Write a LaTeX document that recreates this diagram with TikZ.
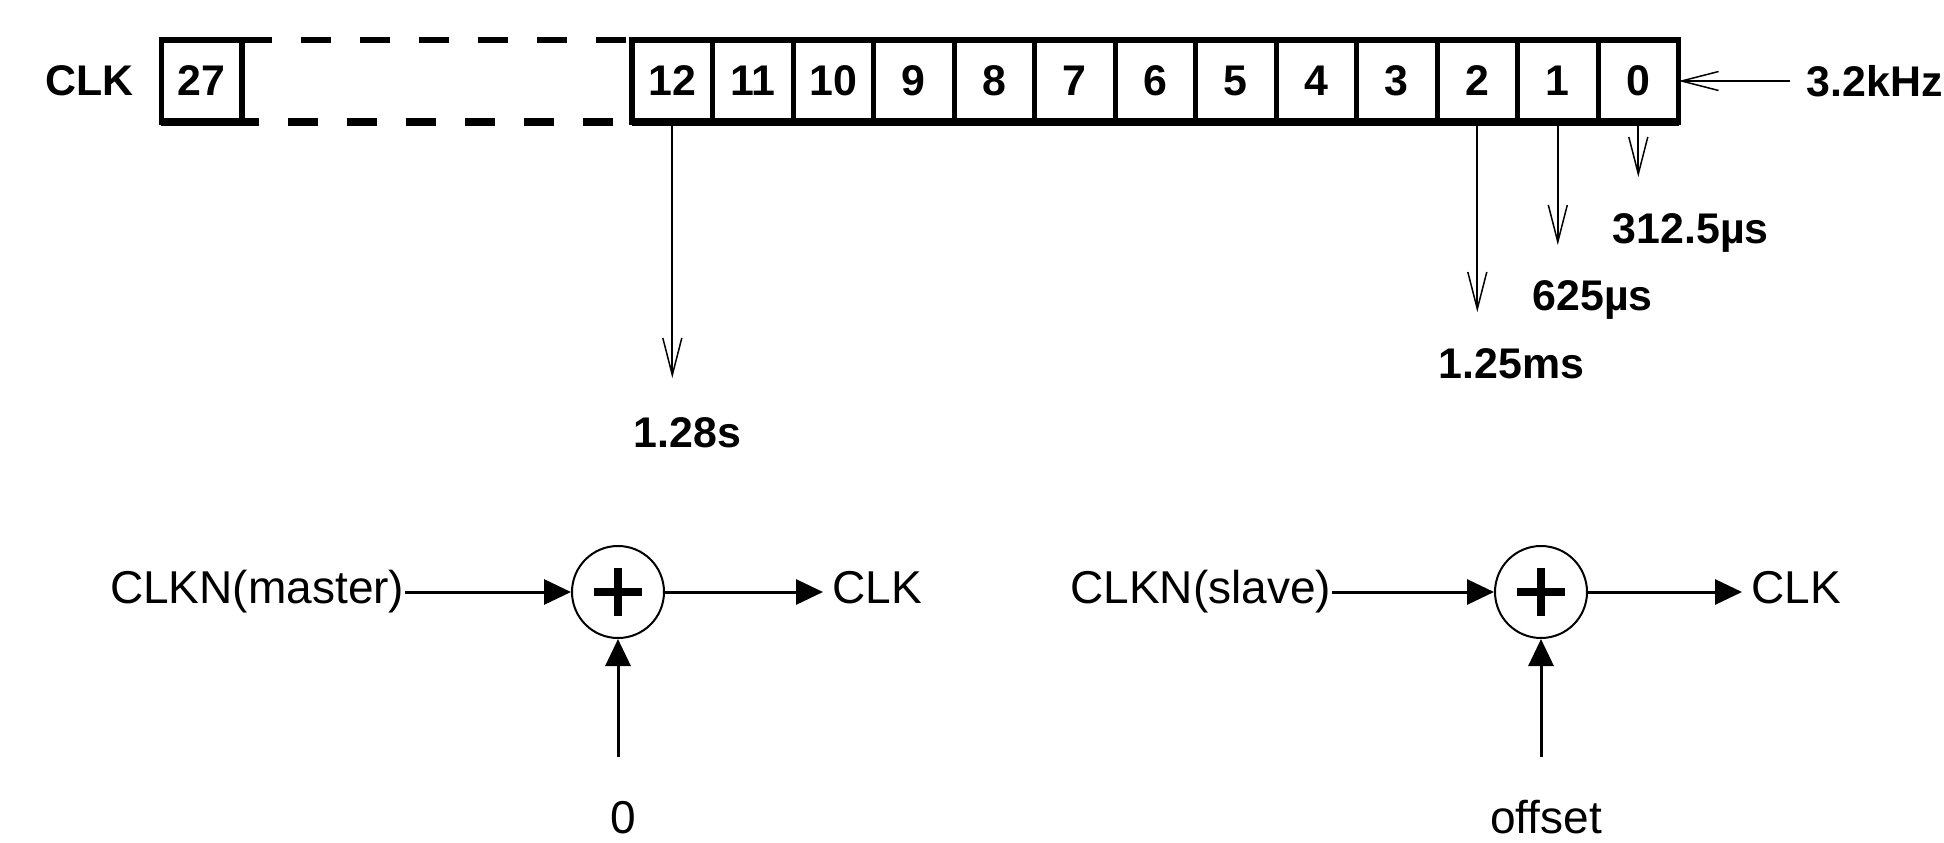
\documentclass[tikz,border=0pt]{standalone}
\usepackage{fontspec}
\setmainfont{Liberation Sans}
\usepackage{tikz}
\usetikzlibrary{positioning}
\usetikzlibrary{arrows.meta,shapes.geometric}

\begin{document}
\begin{tikzpicture}[x=0.1mm, y=-0.1mm,
      reg-cell/.style={rectangle, draw, line width=0.5mm, minimum width=8.05mm, minimum height=8.2mm, inner sep=0pt, outer sep=0pt, font=\bfseries\fontsize{12.2}{14}\selectfont},
      reg-frame/.style={line width=0.55mm},
      reg-base/.style={line width=0.8mm},
      reg-gap/.style={line width=0.6mm, dash pattern=on 3mm off 2.9mm},
      tap-label/.style={inner sep=0pt, font=\bfseries\fontsize{12.2}{14}\selectfont},
      tap-arrow/.style={line width=0.2mm, -{Straight Barb[length=3.7mm, width=1.9mm, line width=0.15mm]}},
      sig-label/.style={inner sep=0pt, font=\fontsize{13.1}{15}\selectfont},
      sig-arrow/.style={line width=0.3mm, -{Triangle[length=2.7mm, width=2.5mm]}},
      sum-node/.style={circle, draw, line width=0.2mm, minimum size=9.2mm, inner sep=0pt},
      sum-plus/.style={line width=0.85mm}
    ]
      \useasboundingbox (0,0) rectangle (1944,842);

      % clock register
      \node[tap-label, anchor=base west] (clk) at (45,95) {CLK};
      \node[reg-cell] (c27) at (201.5,81) {27};
      \node[reg-cell] (c12) at (672.3,81) {12};
      \node[reg-cell, right=0pt of c12] (c11) {11};
      \node[reg-cell, right=0pt of c11] (c10) {10};
      \node[reg-cell, right=0pt of c10] (c9) {9};
      \node[reg-cell, right=0pt of c9] (c8) {8};
      \node[reg-cell, right=0pt of c8] (c7) {7};
      \node[reg-cell, right=0pt of c7] (c6) {6};
      \node[reg-cell, right=0pt of c6] (c5) {5};
      \node[reg-cell, right=0pt of c5] (c4) {4};
      \node[reg-cell, right=0pt of c4] (c3) {3};
      \node[reg-cell, right=0pt of c3] (c2) {2};
      \node[reg-cell, right=0pt of c2] (c1) {1};
      \node[reg-cell, right=0pt of c1] (c0) {0};
      \draw[reg-frame] (c27.north west) rectangle (c27.south east);
      \draw[reg-frame] (c12.north west) rectangle (c0.south east);
      \draw[reg-base] (c27.south west) -- (c27.south east);
      \draw[reg-base] (c12.south west) -- (c0.south east);
      \draw[reg-gap] (c27.north east) -- (c12.north west);
      \draw[reg-gap, line width=0.8mm, dash phase=1.3mm] (c27.south east) -- (c12.south west);

      % input clock
      \node[tap-label, anchor=base west] (freq) at (1806,96) {3.2kHz};
      \draw[tap-arrow, shorten <=1.6mm] (freq.west |- c0.east) -- (c0.east);

      % taps
      \coordinate (e12) at (c12.south |- 0,378);
      \coordinate (e2) at (c2.south |- 0,312);
      \coordinate (e1) at (c1.south |- 0,245);
      \coordinate (e0) at (c0.south |- 0,177);
      \draw[tap-arrow] (c12.south) -- (e12);
      \draw[tap-arrow] (c2.south) -- (e2);
      \draw[tap-arrow] (c1.south) -- (e1);
      \draw[tap-arrow] (c0.south) -- (e0);
      \node[tap-label, anchor=base west] (t12) at (633,447) {1.28s};
      \node[tap-label, anchor=base west] (t2) at (1438,378) {1.25ms};
      \node[tap-label, anchor=base west] (t1) at (1532,310) {625µs};
      \node[tap-label, anchor=base west] (t0) at (1612,243) {312.5µs};

      % master adder
      \node[sum-node] (sumA) at (618,592) {};
      \draw[sum-plus] (sumA.center) +(-24,0) -- +(24,0) +(0,-24) -- +(0,24);
      \node[sig-label, anchor=east] (master) at (405,592) {CLKN(master)};
      \node[sig-label, anchor=base west] (outA) at (832,603) {CLK};
      \node[sig-label, anchor=base] (zeroA) at (623,833) {0};
      \coordinate (inA) at (sumA |- 0,757);
      \draw[sig-arrow] (master.east |- sumA) -- (sumA.west);
      \draw[sig-arrow, shorten >=0.9mm] (sumA.east) -- (sumA.east -| outA.west);
      \draw[sig-arrow] (inA) -- (sumA.south);

      % slave adder
      \node[sum-node] (sumB) at (1541,592) {};
      \draw[sum-plus] (sumB.center) +(-24,0) -- +(24,0) +(0,-24) -- +(0,24);
      \node[sig-label, anchor=east] (slave) at (1332,592) {CLKN(slave)};
      \node[sig-label, anchor=base west] (outB) at (1751,603) {CLK};
      \node[sig-label, anchor=base] (offs) at (1546,833) {offset};
      \coordinate (inB) at (sumB |- 0,757);
      \draw[sig-arrow] (slave.east |- sumB) -- (sumB.west);
      \draw[sig-arrow, shorten >=0.9mm] (sumB.east) -- (sumB.east -| outB.west);
      \draw[sig-arrow] (inB) -- (sumB.south);
    \end{tikzpicture}
\end{document}
